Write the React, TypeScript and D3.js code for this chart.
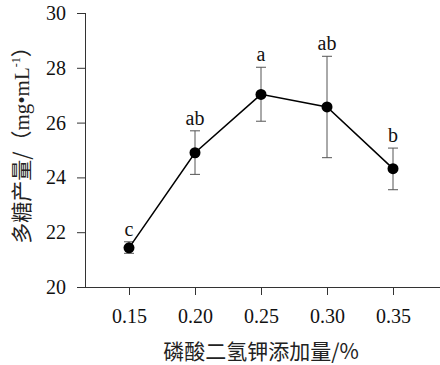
import { useEffect, useRef } from "react";
import * as d3 from "d3";

const WIDTH = 440;
const HEIGHT = 365;
const MARGIN = { top: 13, right: 0, bottom: 78, left: 85 };

// KH2PO4 dose (%) vs polysaccharide yield (mg/mL)
const doses = [0.15, 0.2, 0.25, 0.3, 0.35];
const yields = [21.43, 24.9, 27.03, 26.57, 24.32];
const errLow = [21.23, 24.11, 26.05, 24.72, 23.55];
const errHigh = [21.65, 25.7, 28.02, 28.42, 25.07];
const letters = ["c", "ab", "a", "ab", "b"];
const yTicks = [20, 22, 24, 26, 28, 30];

const SERIF = "Liberation Serif, serif";
const CJK = "Noto Sans CJK SC, sans-serif";

const App = () => {
  const axesRef = useRef<SVGGElement>(null);

  const bottom = HEIGHT - MARGIN.bottom;
  // ticks 0.15 -> 129px, 0.35 -> 393px
  const xScale = d3.scaleLinear().domain([0.15, 0.35]).range([129, 393]);
  const yScale = d3.scaleLinear().domain([20, 30]).range([bottom, MARGIN.top]);

  useEffect(() => {
    const g = d3.select(axesRef.current);
    g.selectAll("*").remove();

    const xAxis = d3
      .axisBottom(xScale)
      .tickValues(doses)
      .tickSize(8)
      .tickPadding(14)
      .tickFormat((d) => d3.format(".2f")(d as number));
    const xg = g.append("g").attr("transform", `translate(0,${bottom})`).call(xAxis);
    xg.select(".domain").remove();
    xg.append("line")
      .attr("x1", MARGIN.left)
      .attr("x2", WIDTH - MARGIN.right)
      .attr("y1", 0.5)
      .attr("y2", 0.5)
      .attr("stroke", "#333");

    const yAxis = d3
      .axisLeft(yScale)
      .tickValues(yTicks)
      .tickSize(8)
      .tickPadding(11)
      .tickFormat((d) => String(d));
    const yg = g.append("g").attr("transform", `translate(${MARGIN.left},0)`).call(yAxis);
    yg.select(".domain").attr("d", `M0.5,${MARGIN.top}V${bottom}`).attr("stroke", "#333");

    g.selectAll("g").attr("font-family", SERIF).attr("font-size", 20);
    g.selectAll(".tick line").attr("stroke", "#333");
    g.selectAll(".tick text")
      .attr("fill", "#111")
      .attr("font-family", SERIF)
      .style("font-family", SERIF);
  }, []);

  const line = d3
    .line<number>()
    .x((_, i) => xScale(doses[i]))
    .y((d) => yScale(d));

  return (
    <div style={{ position: "absolute", left: 0, top: 0 }}>
      <svg width={WIDTH} height={HEIGHT} style={{ background: "#fff", display: "block" }}>
        <g ref={axesRef} />
        {doses.map((d, i) => {
          const x = xScale(d);
          return (
            <g key={i} stroke="#555" strokeWidth={1}>
              <line x1={x} x2={x} y1={yScale(errLow[i])} y2={yScale(errHigh[i])} />
              <line x1={x - 5} x2={x + 5} y1={yScale(errLow[i])} y2={yScale(errLow[i])} />
              <line x1={x - 5} x2={x + 5} y1={yScale(errHigh[i])} y2={yScale(errHigh[i])} />
            </g>
          );
        })}
        <path d={line(yields) || ""} fill="none" stroke="#000" strokeWidth={1.5} />
        {yields.map((v, i) => (
          <circle key={i} cx={xScale(doses[i])} cy={yScale(v)} r={5.5} fill="#000" />
        ))}
        {letters.map((t, i) => (
          <text
            key={i}
            x={xScale(doses[i])}
            y={yScale(errHigh[i]) - 6}
            textAnchor="middle"
            fontFamily={SERIF}
            fontSize={20}
            fill="#111"
          >
            {t}
          </text>
        ))}
        <text
          x={261}
          y={359}
          textAnchor="middle"
          fontFamily={CJK}
          fontSize={21}
          fill="#222"
        >
          磷酸二氢钾添加量/%
        </text>
        <text
          transform={`translate(29,140) rotate(-90)`}
          textAnchor="middle"
          fontFamily={CJK}
          fontSize={21}
          fill="#222"
        >
          多糖产量/（
          <tspan fontFamily={SERIF} fontSize={21}>mg•mL</tspan>
          <tspan fontFamily={SERIF} fontSize={12} dy={-9}>-1</tspan>
          <tspan dy={9}>）</tspan>
        </text>
      </svg>
    </div>
  );
};

export default App;
